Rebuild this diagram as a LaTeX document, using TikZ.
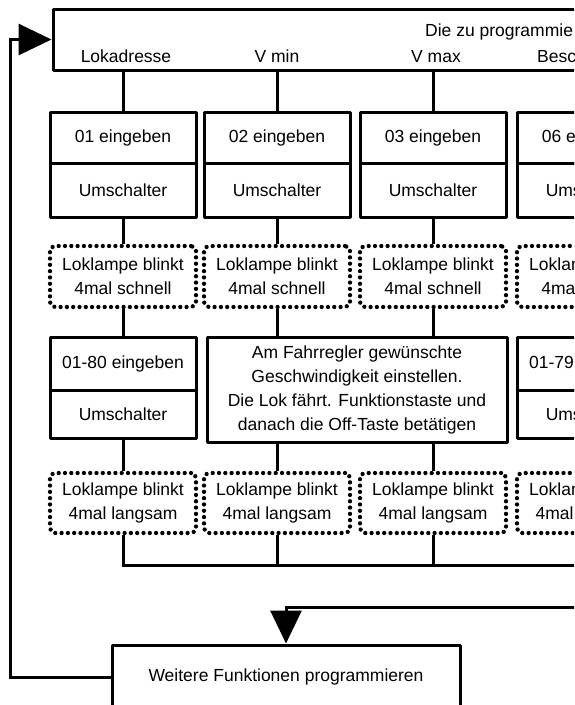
\documentclass[tikz,border=0pt]{standalone}
\usepackage{fontspec}
\setmainfont{Liberation Sans}
\usetikzlibrary{arrows.meta}
\begin{document}
\begin{tikzpicture}[x=1pt,y=-1pt,
  every node/.style={font=\fontsize{17.5}{24}\selectfont, inner sep=0pt},
  box/.style={draw, line width=3pt, line join=round, minimum width=146pt, align=center},
  dotbox/.style={draw, line width=4.3pt, dash pattern=on 0pt off 6.3pt, line cap=round, rounded corners=5pt, minimum width=146pt, minimum height=61pt, align=center},
  conn/.style={line width=3pt},
  tipped/.style={-{Triangle[length=33pt,width=31pt]}}
]
\useasboundingbox (0,0) rectangle (574,705);
\clip (0,0) rectangle (574,705);
\fill[white] (0,0) rectangle (574,705);

% top box
\node[box, minimum width=700pt, minimum height=61pt] (top) at (403,39.5) {};
\node[anchor=base west] (hd) at (425,36) {Die zu programmie};
\node[anchor=base] (h1) at (126,62) {Lokadresse};
\node[anchor=base] (h2) at (277,62) {V min};
\node[anchor=base] (h3) at (436,62) {V max};
\node[anchor=base west] (h4) at (537,62) {Besc};

% row A
\foreach \i/\x/\n in {1/123/01,2/277/02,3/433/03,4/590/06}{
  \node[box, minimum height=51pt] (a\i) at (\x,137.5) {\n{} eingeben};
  \node[box, minimum height=54pt] (b\i) at (\x,190) {Umschalter};
  \node[dotbox] (d\i) at (\x,276.5) {Loklampe blinkt\\4mal schnell};
  \node[dotbox, minimum height=60pt] (g\i) at (\x,503) {Loklampe blinkt\\4mal langsam};
}

% row B
\node[box, minimum height=53pt] (e1) at (123,363.5) {01-80 eingeben};
\node[box, minimum height=48pt] (f1) at (123,414) {Umschalter};
\node[box, minimum width=300pt, minimum height=105pt] (big) at (357,389.5)
  {Am Fahrregler gewünschte\\Geschwindigkeit einstellen.\\Die Lok fährt. Funktionstaste und\\danach die Off-Taste betätigen};
\node[box, minimum height=53pt] (e4) at (590,363.5) {01-79 eingeben};
\node[box, minimum height=48pt] (f4) at (590,414) {Umschalter};

% bottom box
\node[box, minimum width=348pt, minimum height=64pt] (w) at (286,677) {Weitere Funktionen programmieren};

% connectors
\foreach \i in {1,2,3,4}{
  \draw[conn] (a\i.north |- top.south) -- (a\i.north);
  \draw[conn] (b\i.south) -- (d\i.north);
}
\draw[conn] (d1.south) -- (e1.north);
\draw[conn] (f1.south) -- (g1.north);
\draw[conn] (d2.south) -- (d2.south |- big.north);
\draw[conn] (d3.south) -- (d3.south |- big.north);
\draw[conn] (g2.north |- big.south) -- (g2.north);
\draw[conn] (g3.north |- big.south) -- (g3.north);
\draw[conn] (d4.south) -- (e4.north);
\draw[conn] (f4.south) -- (g4.north);

\coordinate (r1) at (600,565);
\draw[conn] (g1.south) |- (r1);
\draw[conn] (g2.south) -- (g2.south |- r1);
\draw[conn] (g3.south) -- (g3.south |- r1);
\draw[conn] (g4.south) -- (g4.south |- r1);

\coordinate (r2) at (600,607);
\draw[conn, tipped] (r2) -| (w.north);

\coordinate (lc) at (10,39.5);
\draw[conn, tipped] (w.west) -| (lc) -- (top.west);
\end{tikzpicture}
\end{document}
